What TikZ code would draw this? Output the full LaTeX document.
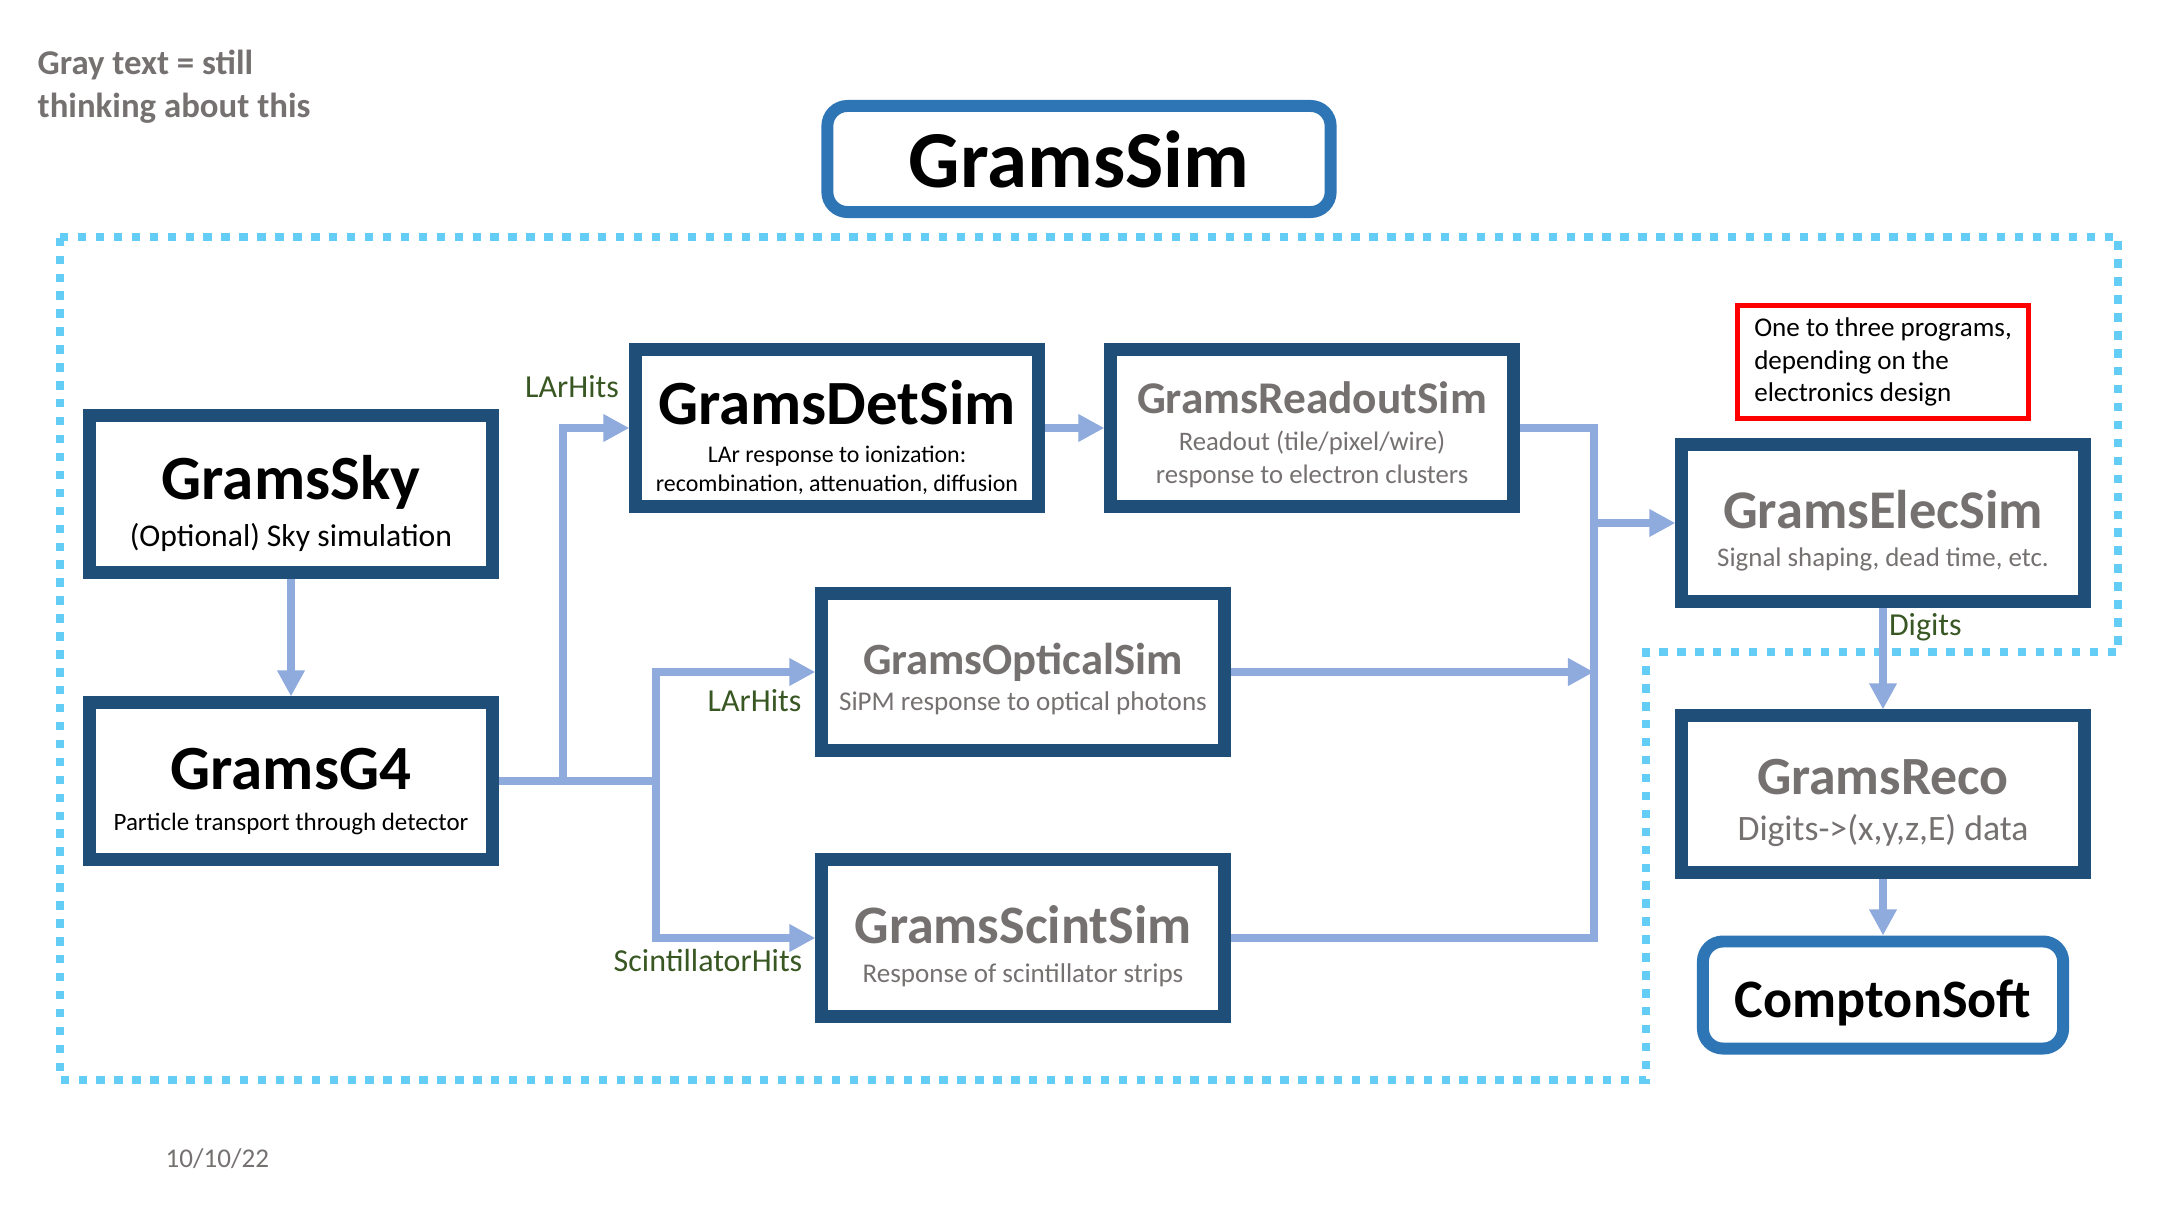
\documentclass[tikz,border=0pt]{standalone}
\usepackage{fontspec}
\setmainfont{Carlito}
\usetikzlibrary{arrows.meta,positioning}
\definecolor{boxblue}{RGB}{31,78,121}
\definecolor{simblue}{RGB}{46,117,182}
\definecolor{flowblue}{RGB}{143,170,220}
\definecolor{regionblue}{RGB}{100,205,246}
\definecolor{ideagray}{RGB}{118,113,113}
\definecolor{hitgreen}{RGB}{56,87,35}
% title line of a program box, with a strut so the lines sit a bit lower
\newcommand{\progtitle}[2]{\fontsize{#1}{#1}\selectfont\bfseries\rule{0pt}{#1pt}#2}
\tikzset{
  progbox/.style={draw=boxblue, line width=3.7pt, fill=white, minimum width=4.02cm, minimum height=1.56cm, inner sep=0pt, align=center},
  ideabox/.style={progbox, text=ideagray},
  toolbox/.style={draw=simblue, line width=3.4pt, rounded corners=2mm, fill=white, inner sep=0pt},
  notebox/.style={draw=red, line width=1.6pt, minimum width=2.91cm, minimum height=1.13cm, inner sep=0pt, align=left},
  hitlabel/.style={text=hitgreen, font=\fontsize{9.1}{10}\selectfont, inner sep=0pt},
  flow/.style={draw=flowblue, line width=2.3pt, -{Triangle[length=7.4pt,width=7.4pt]}},
  pipe/.style={draw=flowblue, line width=2.3pt},
  region/.style={draw=regionblue, line width=2.3pt, dash pattern=on 2.4pt off 2.7pt}
}

\begin{document}
\begin{tikzpicture}[x=0.01cm, y=-0.01cm]
  \useasboundingbox (0,0) rectangle (2160,1215);

  % notes
  \node[anchor=north west, inner sep=0pt, align=left, text=ideagray, font=\fontsize{9.9}{12.3}\selectfont\bfseries] (note) at (37,49) {Gray text = still\\thinking about this};
  \node[anchor=base west, inner sep=0pt, text=ideagray, font=\fontsize{7.7}{9}\selectfont] (date) at (165,1167) {10/10/22};

  % GramsSim part
  \draw[region] (60,237) -- (2118,237) -- (2118,652) -- (1646,652) -- (1646,1080) -- (60,1080) -- cycle;
  \node[toolbox, minimum width=5.03cm, minimum height=1.06cm, font=\fontsize{23}{23}\selectfont\bfseries] (gramssim) at (1079,159) {GramsSim};

  \node[progbox, font=\fontsize{9}{13.4}\selectfont] (sky) at (291,494) {\progtitle{17.9}{GramsSky}\\(Optional) Sky simulation};
  \node[progbox, font=\fontsize{7.1}{11.7}\selectfont] (g4) at (291,781) {\progtitle{17.9}{GramsG4}\\Particle transport through detector};
  \node[progbox, font=\fontsize{6.8}{8}\selectfont] (detsim) at (837,428) {\progtitle{17.9}{GramsDetSim}\\[2.8pt]LAr response to ionization:\\recombination, attenuation, diffusion};
  \node[ideabox, font=\fontsize{7.6}{9.4}\selectfont] (readout) at (1312,428) {\progtitle{12.9}{GramsReadoutSim}\\[1.1pt]Readout (tile/pixel/wire)\\response to electron clusters};
  \node[ideabox, font=\fontsize{7.7}{10.2}\selectfont] (optical) at (1023,672) {\progtitle{12.7}{GramsOpticalSim}\\SiPM response to optical photons};
  \node[ideabox, font=\fontsize{7.7}{11.2}\selectfont] (scint) at (1023,938) {\progtitle{15.4}{GramsScintSim}\\Response of scintillator strips};
  \node[ideabox, font=\fontsize{7.65}{10.8}\selectfont] (elec) at (1883,523) {\progtitle{15.5}{GramsElecSim}\\Signal shaping, dead time, etc.};
  \node[ideabox, font=\fontsize{10.15}{13.1}\selectfont] (reco) at (1883,794) {\progtitle{15.3}{GramsReco}\\Digits->(x,y,z,E) data};
  \node[toolbox, minimum width=3.6cm, minimum height=1.07cm] (compton) at (1883,995) {\progtitle{15.4}{ComptonSoft}};
  \node[notebox, font=\fontsize{7.7}{9.25}\selectfont] (choice) at (1883,362) {One to three programs,\\depending on the\\electronics design};

  \coordinate (fork1) at (563,781);
  \coordinate (fork2) at (656,781);
  \coordinate (bus) at (1594,429);

  \draw[flow] (sky) -- (g4);
  \draw[flow] (g4.east) -- (fork1) |- (detsim.west)
    node[hitlabel, pos=1, anchor=base east, xshift=-0.65mm, yshift=3mm] {LArHits};
  \draw[flow] (fork1) -- (fork2) |- (optical.west)
    node[hitlabel, pos=1, anchor=base east, xshift=-1mm, yshift=-3.9mm] {LArHits};
  \draw[flow] (fork2) |- (scint.west)
    node[hitlabel, pos=1, anchor=base east, xshift=-0.9mm, yshift=-3.3mm] {ScintillatorHits};
  \draw[flow] (detsim) -- (readout);
  \draw[pipe] (readout.east) -| (bus |- scint.east) -- (scint.east);
  \draw[flow] (optical.east) -- (optical.east -| bus);
  \draw[flow] (elec.west -| bus) -- (elec.west);
  \draw[flow] (elec) -- (reco)
    node[hitlabel, pos=0, anchor=base west, xshift=0.2mm, yshift=-2.8mm] {Digits};
  \draw[flow] (reco) -- (compton);
\end{tikzpicture}
\end{document}
